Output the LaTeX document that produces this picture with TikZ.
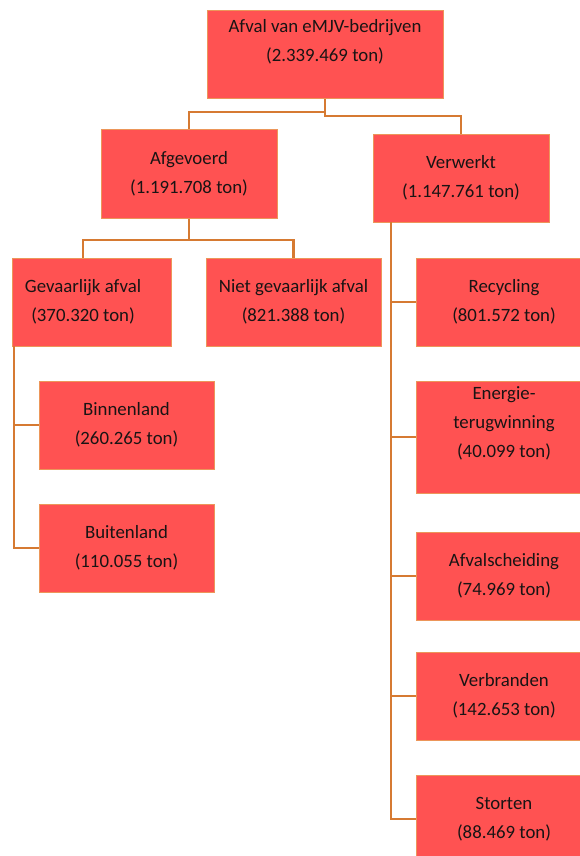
\documentclass[tikz,border=0pt]{standalone}
\usepackage{fontspec}
\setmainfont{Carlito}
\usetikzlibrary{positioning}
\definecolor{colorBox}{RGB}{255, 82, 82}
\definecolor{colorEdge}{RGB}{236, 150, 90}
\definecolor{colorLine}{RGB}{214, 122, 50}
\definecolor{colorText}{RGB}{25, 20, 20}
\tikzstyle{wastebox} = [rectangle, minimum width=176pt, minimum height=88pt, inner sep=0pt, align=center, text=colorText, draw=colorEdge, line width=1pt, fill=colorBox, font=\fontsize{18.8}{29}\selectfont]
\tikzstyle{conn} = [draw=colorLine, line width=2.2pt]
\begin{document}
\begin{tikzpicture}[x=1pt, y=-1pt]

		\useasboundingbox (0,0) rectangle (580,856);
		\clip (0,0) rectangle (580,856);

		% top
		\node (pTotal)[wastebox, minimum width=236pt] at (325,55) {Afval van eMJV-bedrijven\\(2.339.469 ton)\\[-8pt]\strut};

		% second row
		\node (pAfgevoerd)[wastebox] at (189,174) {Afgevoerd\\(1.191.708 ton)};
		\node (pVerwerkt)[wastebox] at (461,178) {Verwerkt\\(1.147.761 ton)};

		% afgevoerd
		\node (pGevaarlijk)[wastebox, minimum width=159pt, label={[xshift=-8.5pt, align=center, text=colorText, font=\fontsize{18.8}{29}\selectfont]center:Gevaarlijk afval\\(370.320 ton)}] at (91.5,302) {};
		\node (pNietGevaarlijk)[wastebox, minimum width=175pt] at (293.5,302) {Niet gevaarlijk afval\\(821.388 ton)};
		\node (pBinnenland)[wastebox, minimum width=175pt] at (126.5,425) {Binnenland\\(260.265 ton)};
		\node (pBuitenland)[wastebox, minimum width=175pt] at (126.5,548) {Buitenland\\(110.055 ton)};

		% verwerkt
		\node (pRecycling)[wastebox] at (504,302) {Recycling\\(801.572 ton)};
		\node (pEnergie)[wastebox, minimum height=112pt] at (504,437) {Energie-\\terugwinning\\(40.099 ton)\\[-8pt]\strut};
		\node (pAfvalscheiding)[wastebox] at (504,576) {Afvalscheiding\\(74.969 ton)};
		\node (pVerbranden)[wastebox] at (504,696) {Verbranden\\(142.653 ton)};
		\node (pStorten)[wastebox] at (504,819) {Storten\\(88.469 ton)};

		% bends
		\coordinate (dummy1) at (325,112);
		\coordinate (dummy2) at (325,116);
		\coordinate (dummy3) at (189,240);
		\coordinate (dummy4) at (14,346);
		\coordinate (dummy5) at (391,222);

		% lines
		\draw[conn] (pTotal.south) -- (dummy1) -| (pAfgevoerd.north);
		\draw[conn] (pTotal.south) -- (dummy2) -| (pVerwerkt.north);

		\draw[conn] (pAfgevoerd.south) -- (dummy3) -| ([xshift=-8.5pt]pGevaarlijk.north);
		\draw[conn] (dummy3) -| (pNietGevaarlijk.north);

		\draw[conn] (dummy4) |- (pBinnenland.west);
		\draw[conn] (dummy4) |- (pBuitenland.west);

		\draw[conn] (dummy5) |- (pRecycling.west);
		\draw[conn] (dummy5) |- (pEnergie.west);
		\draw[conn] (dummy5) |- (pAfvalscheiding.west);
		\draw[conn] (dummy5) |- (pVerbranden.west);
		\draw[conn] (dummy5) |- (pStorten.west);

	\end{tikzpicture}
\end{document}
